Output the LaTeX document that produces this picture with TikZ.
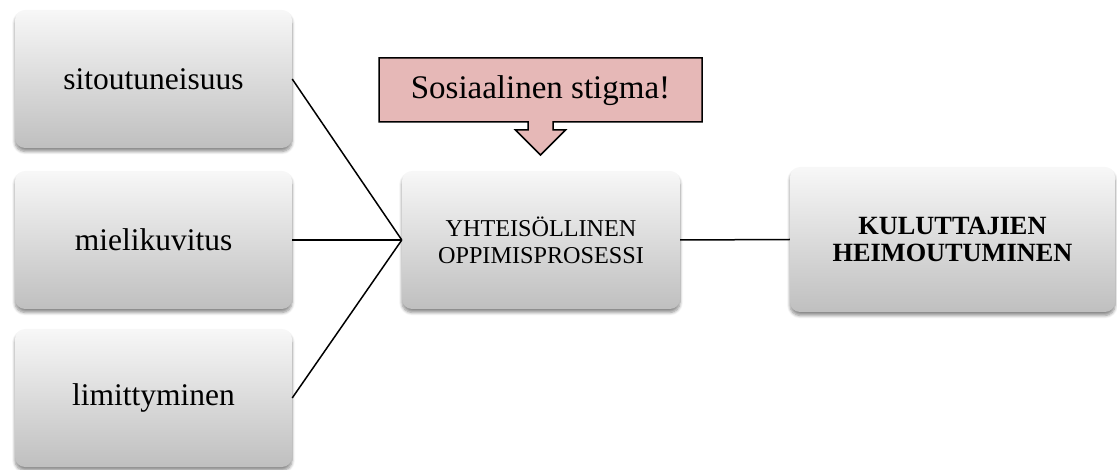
\documentclass[tikz,border=0pt]{standalone}
\usepackage{fontspec}
\setmainfont{Liberation Serif}
\usetikzlibrary{shadows.blur}
\definecolor{calloutpink}{HTML}{E6B8B7}
\tikzset{
  gbox/.style={rounded corners=10pt, top color=white!97!black, bottom color=white!75!black,
    shading angle=0, align=center,
    blur shadow={shadow xshift=0pt, shadow yshift=-3.5pt, shadow blur radius=3pt, shadow blur steps=6, shadow opacity=45}},
  leftbox/.style={gbox, minimum width=277pt, minimum height=138pt, font=\fontsize{31.5}{36}\selectfont},
  conn/.style={line width=1.5pt, black},
}
\begin{document}
\begin{tikzpicture}[x=1pt,y=-1pt]
\useasboundingbox (0,0) rectangle (1117,470);
\node[leftbox] (b1) at (153.5,79) {sitoutuneisuus};
\node[leftbox] (b2) at (153.5,240) {mielikuvitus};
\node[leftbox] (b3) at (153.5,398) {limittyminen};
\node[gbox, minimum width=278pt, minimum height=138pt, font=\fontsize{24.2}{27}\selectfont] (c) at (541,240) {YHTEIS\"OLLINEN\\OPPIMISPROSESSI};
\node[gbox, minimum width=325pt, minimum height=145pt, font=\fontsize{26.3}{27}\selectfont\bfseries] (r) at (952.5,239.5) {KULUTTAJIEN\\HEIMOUTUMINEN};
\draw[conn] (b1.east) -- (c.west);
\draw[conn] (b2.east) -- (c.west);
\draw[conn] (b3.east) -- (c.west);
\draw[conn] (c.east) -- (r.west);
\draw[fill=calloutpink, line width=1.5pt, line join=miter]
  (379,58) -- (702,58) -- (702,122) -- (553,122) -- (553,130) -- (565.5,130) -- (540.5,155)
  -- (515.5,130) -- (528,130) -- (528,122) -- (379,122) -- cycle;
\node[font=\fontsize{33}{36}\selectfont, inner sep=0pt] (s) at (540.5,91) {Sosiaalinen stigma!};
\end{tikzpicture}
\end{document}
